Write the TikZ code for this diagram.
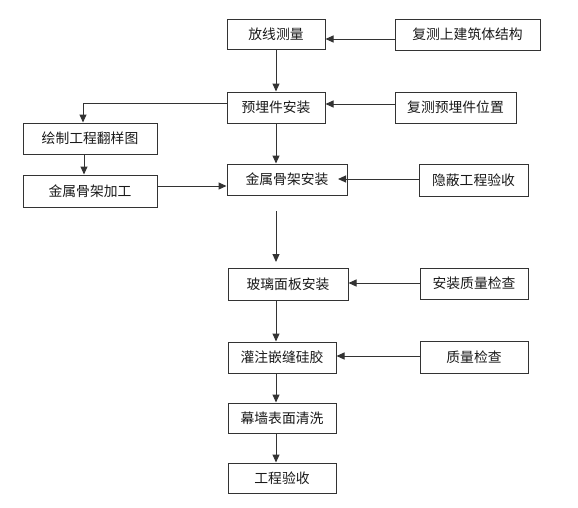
\documentclass[tikz,border=0pt]{standalone}
\usepackage{fontspec}
\newfontfamily\cjk{Noto Sans CJK SC}
\usetikzlibrary{arrows.meta}
\definecolor{linegray}{HTML}{333333}
\definecolor{txtgray}{HTML}{1A1A1A}
\tikzset{
  box/.style={draw=linegray, line width=1pt, fill=white, inner sep=0pt,
    font=\cjk\fontsize{13.8pt}{15pt}\selectfont, text=txtgray},
  arr/.style={draw=linegray, line width=1pt, -{Triangle[length=8pt,width=7pt]}}
}
\begin{document}
\begin{tikzpicture}[x=1pt,y=-1pt]
\useasboundingbox (0,0) rectangle (578,507);
% boxes: center, width, height in px
\node[box, minimum width=98pt,  minimum height=30pt] (a) at (276,34)    {放线测量};
\node[box, minimum width=145pt, minimum height=31pt] (b) at (467.5,34.5) {复测上建筑体结构};
\node[box, minimum width=98pt,  minimum height=31pt] (c) at (276,107.5) {预埋件安装};
\node[box, minimum width=121pt, minimum height=31pt] (d) at (455.5,107.5) {复测预埋件位置};
\node[box, minimum width=134pt, minimum height=31pt] (e) at (90,138.5)  {绘制工程翻样图};
\node[box, minimum width=134pt, minimum height=32pt] (f) at (90,191)    {金属骨架加工};
\node[box, minimum width=120pt, minimum height=31pt] (g) at (287,179.5) {金属骨架安装};
\node[box, minimum width=109pt, minimum height=32pt] (h) at (473.5,180) {隐蔽工程验收};
\node[box, minimum width=120pt, minimum height=32pt] (i) at (288,284)   {玻璃面板安装};
\node[box, minimum width=108pt, minimum height=31pt] (j) at (474,283.5) {安装质量检查};
\node[box, minimum width=108pt, minimum height=31pt] (k) at (282,357.5) {灌注嵌缝硅胶};
\node[box, minimum width=108pt, minimum height=32pt] (l) at (474,357)   {质量检查};
\node[box, minimum width=108pt, minimum height=30pt] (m) at (282,418)   {幕墙表面清洗};
\node[box, minimum width=108pt, minimum height=30pt] (n) at (282,478)   {工程验收};
% free points
\coordinate (p1) at (276,211);
\coordinate (p2) at (276,262);
\coordinate (gtip) at (338,179);
% connectors
\draw[arr] (b.west |- 0,39) -- (a.east |- 0,39);
\draw[arr] (a.south) -- (c.north);
\draw[arr] (d.west |- 0,104) -- (c.east |- 0,104);
\draw[arr] (c.west |- 0,103) -| ([xshift=-7pt]e.north);
\draw[arr] ([xshift=-6pt]e.south) -- ([xshift=-6pt]f.north);
\draw[arr] (f.east |- 0,186) -- (g.west |- 0,186);
\draw[arr] (c.south) -- (c.south |- g.north);
\draw[arr] (h.west |- gtip) -- (gtip);
\draw[arr] (p1) -- (p2);
\draw[arr] (j.west |- 0,283) -- (i.east |- 0,283);
\draw[arr] (a.south |- i.south) -- (a.south |- k.north);
\draw[arr] (l.west |- 0,356) -- (k.east |- 0,356);
\draw[arr] (a.south |- k.south) -- (a.south |- m.north);
\draw[arr] (a.south |- m.south) -- (a.south |- n.north);
\end{tikzpicture}
\end{document}
